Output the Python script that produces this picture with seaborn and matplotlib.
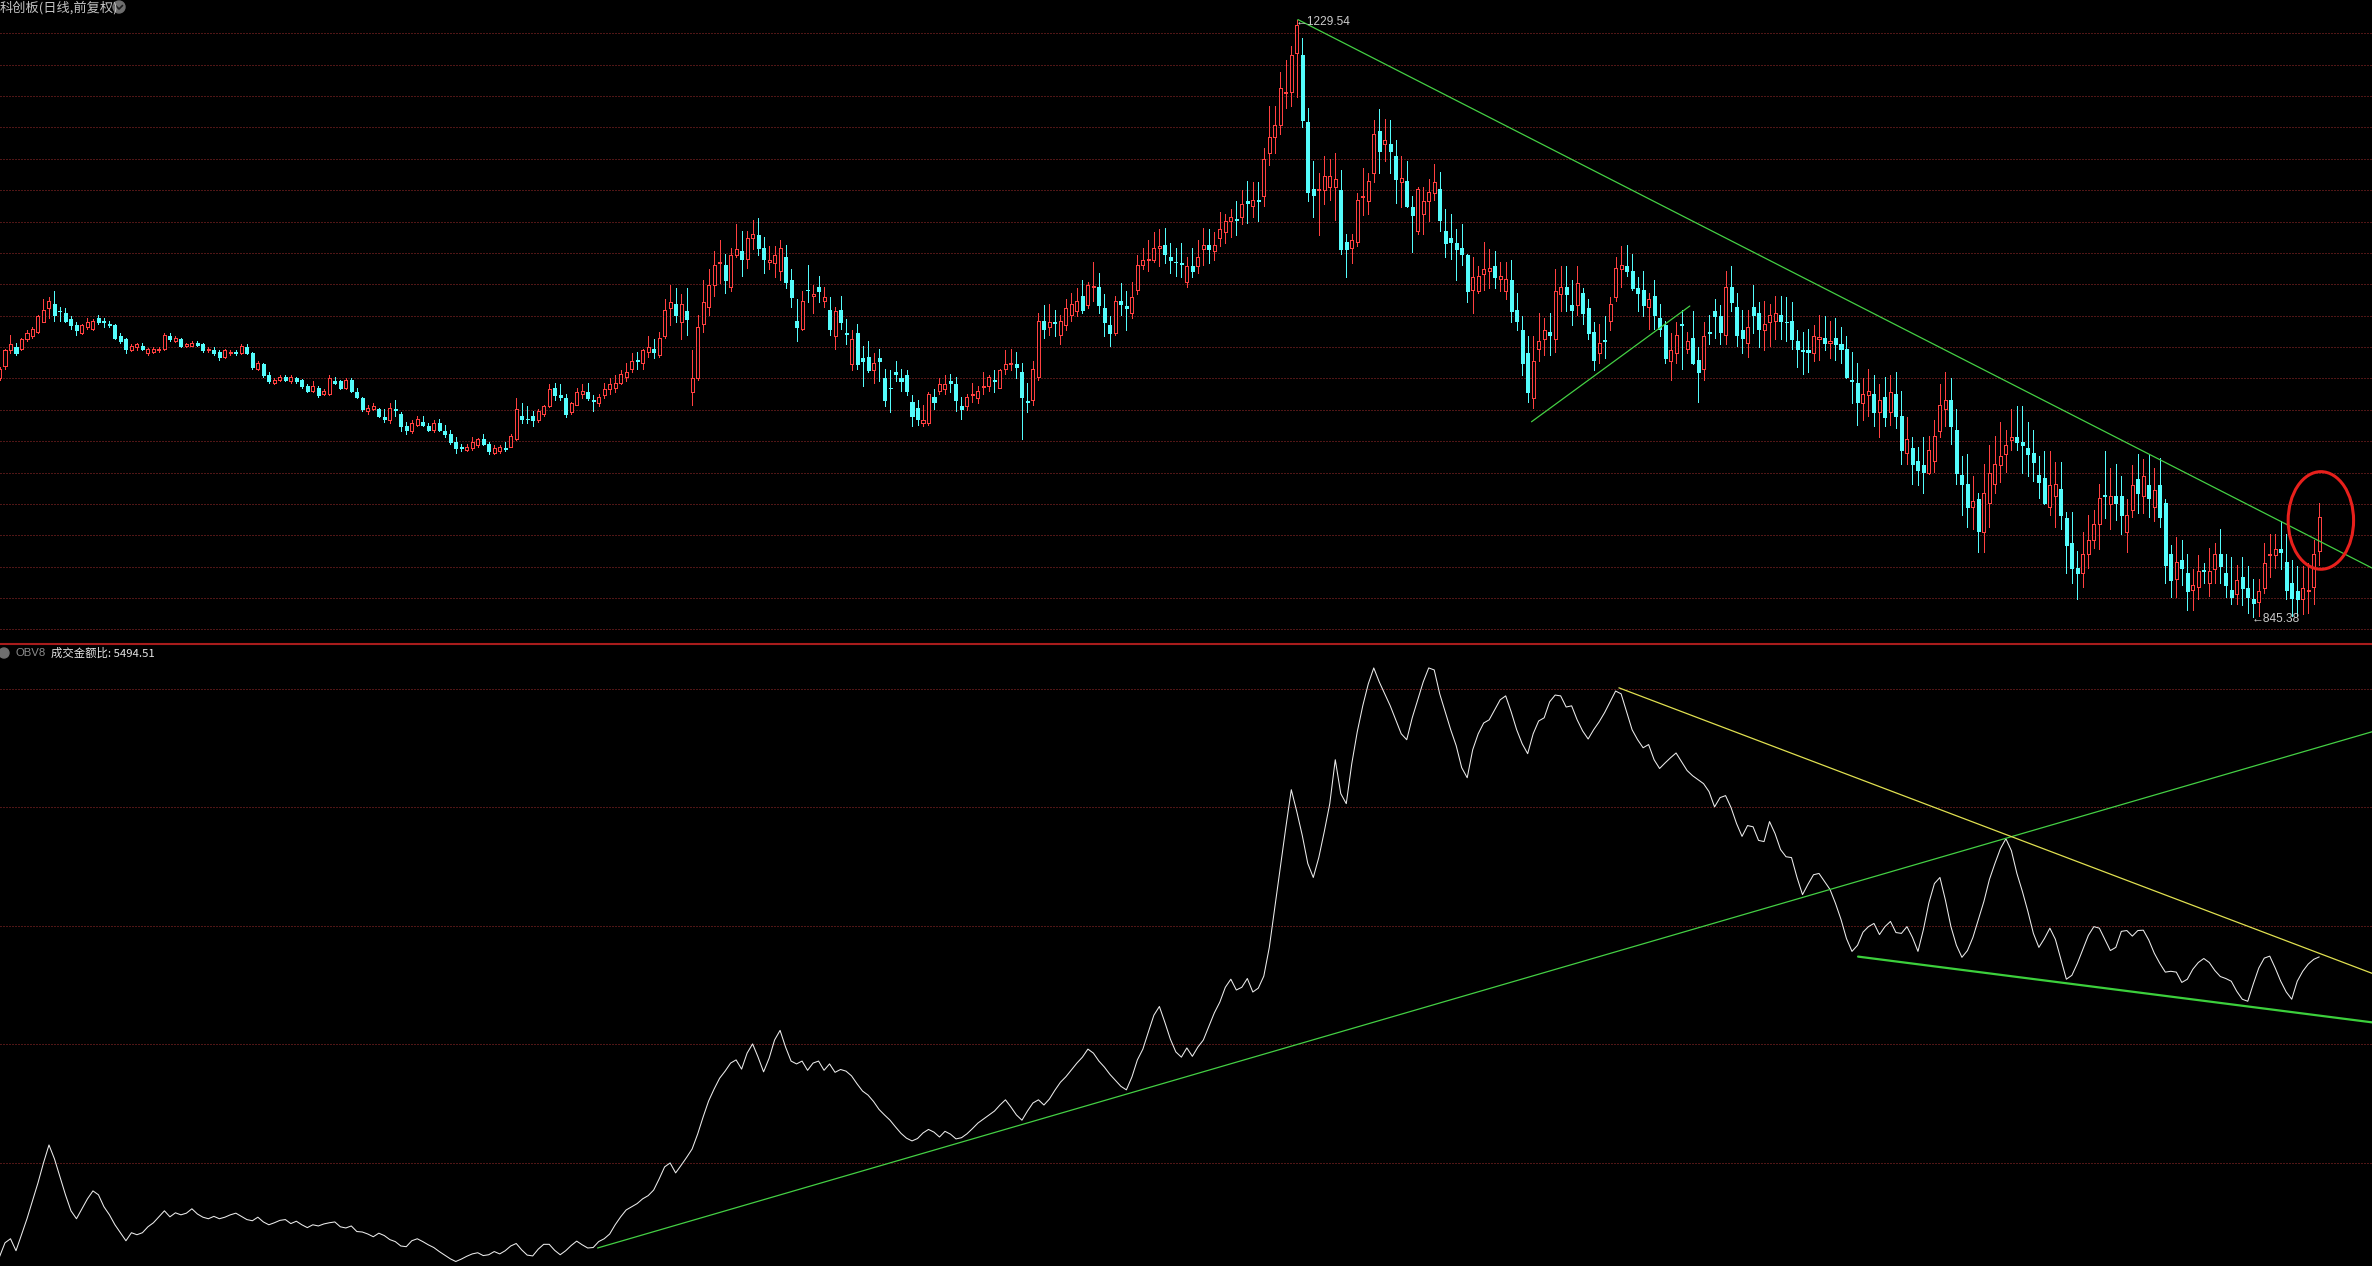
import matplotlib.pyplot as plt
from matplotlib.lines import Line2D
from matplotlib.patches import Ellipse
import numpy as np
import seaborn as sns

# 日线数据 (读自截图, 约423根K线)
opens = [
    999, 1007, 1017, 1019, 1018, 1024, 1026, 1029, 1035, 1044,
    1047, 1042.5, 1041, 1037, 1033, 1028, 1032, 1031, 1038, 1036,
    1034, 1033, 1026, 1024, 1017, 1019, 1020, 1015, 1016, 1017,
    1018, 1026, 1023, 1024, 1020, 1020, 1022, 1021, 1017, 1017,
    1016, 1013, 1015, 1016, 1015, 1019, 1015, 1005, 1008, 1001,
    996, 998, 1000, 997, 999, 998, 994, 991, 993, 989,
    989, 997, 997, 993, 998, 990, 986, 978, 979, 979,
    974, 972, 979, 976, 968, 965, 969, 971, 968, 966,
    970, 965, 963, 958, 954.5, 953, 954, 956, 960, 957,
    951, 952, 954, 955, 960, 975, 973, 975, 972, 976,
    981, 993, 988, 986, 977, 982, 989, 990, 985, 983,
    988, 992, 993, 996, 1000, 1005, 1011, 1009, 1016, 1018,
    1014, 1026, 1044, 1047, 1035, 1042, 990, 999, 1034, 1045,
    1059, 1073, 1072, 1058, 1078, 1081, 1076, 1089, 1091, 1083,
    1074, 1073, 1068, 1077, 1062, 1036, 1031, 1056, 1052, 1058,
    1049, 1043, 1026, 1043, 1028, 1008, 1028, 1012, 1013, 1004,
    1012, 999, 993, 1003, 999, 1001, 984, 980, 970, 970,
    987, 991, 992, 997, 995, 981, 981, 988, 986, 993.6,
    994, 998, 993, 1005, 1008, 1008, 1003, 984.3, 985, 1000,
    1036, 1032, 1035.2, 1027, 1033, 1040, 1042, 1052, 1046, 1058,
    1058, 1044, 1033, 1028, 1049, 1045.5, 1041, 1056, 1072, 1075,
    1075, 1083, 1085, 1077, 1074, 1073, 1061, 1071, 1071, 1082,
    1085, 1081, 1089, 1093, 1100, 1101.5, 1103, 1113, 1110, 1113.7,
    1116, 1144, 1154, 1162, 1182.3, 1183, 1208, 1207, 1164, 1121,
    1120, 1120, 1122, 1122, 1120, 1087, 1083, 1087, 1115.4, 1113,
    1131, 1158, 1150, 1150, 1142, 1125, 1126, 1109, 1094, 1105,
    1113, 1118, 1121, 1094, 1089, 1086, 1083, 1078, 1056, 1055,
    1066, 1068, 1071, 1063, 1055, 1062, 1043, 1030, 1015, 986,
    1018, 1024, 1029, 1024, 1053, 1058, 1046, 1046, 1054, 1044,
    1029, 1015, 1023.5, 1036, 1051, 1069, 1071, 1068, 1057, 1056,
    1045, 1052, 1038, 1033, 1010, 1015, 1034, 1018, 1025, 1011,
    1005, 1029, 1042, 1039, 1027, 1058, 1045, 1030, 1022, 1045,
    1041, 1030, 1035, 1036, 1040, 1035.4, 1036, 1023, 1017, 1017,
    1015, 1024.5, 1025, 1022, 1025, 1021, 1018, 998, 996, 983,
    988, 989, 977, 987, 977, 989, 975, 951, 954, 946,
    943, 938, 946, 965, 979, 985, 966, 937, 931, 916,
    921, 900, 919, 931, 943, 950, 959, 961, 958, 954,
    951, 937, 935, 916, 923, 928, 909, 893, 877, 874,
    886, 895, 905, 924, 918, 923, 923, 900, 914, 934,
    923, 930, 916, 930, 919, 886, 870, 882, 874, 863,
    865, 875.6, 867, 876, 886, 874, 863, 860, 871, 864,
    857, 855, 864, 885, 885, 889, 881, 867, 862, 857,
    862, 865, 888,
]
highs = [
    1006, 1018, 1027, 1022, 1025, 1030, 1032, 1040, 1050, 1051,
    1055, 1045, 1044, 1039, 1035, 1034, 1038, 1037, 1040, 1038,
    1036, 1034, 1028, 1025, 1021, 1021.5, 1022, 1018.5, 1019, 1019,
    1028, 1028, 1026, 1025, 1022, 1023, 1023, 1022, 1019, 1019,
    1017, 1018, 1017, 1017, 1021, 1021, 1016, 1010, 1009, 1003,
    999, 1001, 1001, 1001, 1000, 998.5, 995, 997, 994, 992,
    1001, 1000, 998, 999, 999, 993, 987, 982, 983, 980,
    979, 983, 985, 977, 971, 972, 975, 975, 970, 972,
    973, 969, 966, 961, 957, 957, 961, 960.5, 963, 958,
    956, 956, 958, 963, 986, 983, 981, 978, 979, 982,
    995, 996, 995, 989, 984, 993, 995, 996, 988, 989,
    996, 999, 1001, 1004, 1009, 1015, 1016, 1018, 1026, 1024,
    1029, 1050, 1059, 1057, 1053, 1057, 1017, 1040, 1062, 1069,
    1081, 1088, 1079, 1083, 1098, 1094, 1094, 1101, 1102, 1090,
    1084, 1084, 1088, 1085, 1069, 1050, 1055, 1072, 1059, 1065,
    1058, 1051, 1045, 1052, 1037, 1030, 1034, 1020, 1023, 1015,
    1018, 1005, 1004, 1010, 1005, 1004, 988, 985, 982, 990,
    992, 999, 1001, 1002, 1000, 987, 989, 996, 994, 1003,
    1001, 1004, 1005, 1017, 1018, 1016, 1009, 996, 1010, 1041,
    1046, 1047, 1043, 1040, 1050, 1054, 1057, 1062, 1061, 1074,
    1067, 1053, 1039, 1052, 1060, 1055, 1061, 1078, 1083, 1088,
    1093, 1095, 1096, 1086, 1083, 1086, 1077, 1083, 1088, 1096,
    1095, 1093, 1106, 1105, 1108, 1113, 1120, 1126, 1125, 1125,
    1147, 1174, 1174, 1196, 1204, 1213, 1229.54, 1218, 1173, 1139,
    1131, 1142, 1140, 1144, 1133, 1092, 1092, 1118, 1134, 1131,
    1165, 1172, 1166, 1165, 1152, 1142, 1139, 1116, 1122, 1122,
    1127, 1137, 1132, 1108, 1105, 1095, 1098, 1079, 1077, 1071,
    1087, 1082, 1081, 1074, 1074, 1075, 1054, 1039, 1026, 1026,
    1041, 1038, 1041, 1069, 1071, 1071, 1062, 1071, 1057, 1050,
    1035, 1034, 1039, 1051, 1077, 1084, 1085, 1079, 1064, 1068,
    1054, 1062, 1047, 1036, 1028, 1035, 1043, 1029, 1042, 1019,
    1035, 1040, 1050, 1046, 1068, 1071, 1054, 1043, 1043, 1059,
    1048, 1049, 1047, 1052, 1052, 1051, 1048, 1030, 1029, 1031,
    1033, 1040, 1039, 1036, 1038, 1032, 1026, 1016, 1009, 999,
    1005, 1001, 995, 1000, 1001, 1003, 991, 974, 961, 955,
    961, 962, 972, 995, 1003, 999, 979, 949, 950, 936,
    925, 944, 956, 962, 971, 966, 979, 981, 981, 971,
    966, 949, 952, 952, 945, 945, 913, 913, 888, 900,
    911, 914, 931, 952, 941, 944, 936, 921, 943, 950,
    947, 950, 941, 948, 921, 892, 897, 895, 886, 876,
    885, 880, 890, 893, 902, 886, 884, 879, 884, 878,
    870, 870, 893, 899, 899, 907, 899, 882, 878, 878,
    880, 895, 919,
]
lows = [
    998, 1005, 1015, 1014, 1017, 1023, 1025, 1028, 1035, 1038,
    1036, 1036, 1035, 1031, 1027, 1027.5, 1031, 1030, 1034, 1032,
    1032, 1024, 1022, 1015, 1016.5, 1017, 1017, 1014, 1015, 1016,
    1017, 1023, 1022.5, 1019, 1019, 1019.5, 1019.8, 1016, 1016, 1014,
    1011, 1012, 1014, 1014, 1014.5, 1014.5, 1005, 1004, 1000, 996,
    995, 997, 997, 996, 996, 993, 990, 990, 987, 988,
    988.5, 995, 992, 992, 990, 986, 978, 976, 978.5, 974,
    971, 970, 975, 965, 963, 964, 968, 968, 965, 964.5,
    965, 961, 957, 951, 952, 952, 953, 955, 956, 950,
    950, 951, 952, 954.5, 959.5, 970, 970, 968, 971, 975,
    980.5, 985, 985, 974, 976, 981.5, 986, 985, 978, 981,
    986, 989, 990, 995, 997, 1003, 1005, 1005, 1013, 1012,
    1013, 1025, 1033, 1035, 1024, 1027, 982, 998, 1029, 1040,
    1052, 1060, 1054, 1055, 1077, 1065, 1070, 1082, 1078, 1067,
    1069, 1064, 1062, 1057, 1045, 1023, 1030, 1048, 1041, 1048,
    1045, 1027, 1018, 1031, 1021, 1004, 1005, 994, 1003, 996,
    997, 981, 977, 997, 991, 988, 968, 969, 968, 969,
    979, 989, 989, 990, 978, 973, 978.5, 984, 983, 989,
    991, 990, 992.5, 1002, 1004, 999, 960, 977, 982, 998,
    1025, 1027, 1026, 1021, 1030, 1036, 1039, 1041, 1044, 1049,
    1041, 1026, 1020, 1027, 1040, 1030, 1038, 1053, 1069, 1068,
    1074, 1071, 1073, 1067, 1065, 1064, 1058, 1064, 1067, 1072,
    1073, 1075, 1084, 1086, 1090, 1091, 1098, 1099, 1103, 1100,
    1110, 1136, 1144, 1156, 1173, 1174, 1180, 1161, 1113, 1103,
    1091, 1111, 1114, 1101, 1079, 1064, 1073, 1084, 1104, 1105,
    1125, 1131, 1139, 1131, 1112, 1109, 1109.5, 1080, 1092, 1092,
    1100, 1114, 1094, 1077, 1076, 1062, 1072, 1048, 1041, 1054,
    1056, 1057, 1057, 1055, 1050, 1035, 1030, 1001, 984, 980,
    1010, 1014, 1014, 1016, 1042, 1042, 1033, 1040, 1034, 1024,
    1004, 1009, 1012, 1030, 1049, 1058, 1065, 1056, 1042, 1039,
    1031, 1031, 1026, 1009, 998, 1009, 1005, 1015, 1008, 984,
    998, 1021, 1025, 1021, 1021, 1042, 1020, 1015, 1013, 1028,
    1019, 1017, 1020, 1024, 1024, 1023, 1018, 1006, 1002, 1003,
    1010, 1011, 1017, 1012, 1011, 1009, 999, 983, 969, 972,
    975, 968, 961, 968, 969, 967, 944, 944, 931, 930,
    925, 937.5, 939, 961, 968, 957, 931, 911, 903, 902,
    887, 887, 903, 925, 932, 939, 953, 953, 938, 936,
    933, 922, 918, 911, 903, 902, 874, 867, 857, 865,
    877, 890, 889, 909, 902, 908, 899, 887, 910, 912,
    912, 910, 907, 903, 867, 858, 858, 866, 850, 850,
    857, 867, 859, 867, 867, 858, 854, 854, 853, 848,
    845.38, 846, 861, 871, 877, 876, 857, 846, 846, 847,
    848, 854, 879,
]
closes = [
    1005, 1017, 1021, 1015, 1024, 1028, 1031, 1039, 1043, 1049,
    1040, 1042, 1036, 1033, 1030, 1033, 1035, 1036, 1035, 1035,
    1033, 1025, 1023, 1018, 1020, 1021, 1018, 1018, 1018, 1018,
    1027, 1024, 1025, 1020, 1021, 1022, 1020.5, 1017, 1018, 1015,
    1013, 1017, 1016, 1015, 1020, 1015.5, 1006, 1009, 1001, 997,
    998, 1000, 998, 1000, 997, 994, 991, 994, 988, 991,
    999, 996, 993, 998, 991, 987, 979, 980, 981, 975,
    973, 980, 978.5, 968, 966, 970, 973, 969, 966, 970,
    966, 963, 958, 954, 954, 955, 958, 960, 957, 952,
    954, 955, 953.5, 962, 979, 973, 972.5, 972, 978, 981,
    992, 988, 987, 976, 983, 990, 991, 986, 984.5, 987,
    992, 995, 996, 1002, 1003, 1010, 1010, 1017, 1019, 1016,
    1025, 1043, 1048, 1040, 1047, 1037, 999, 1032, 1048, 1059,
    1072, 1074, 1062, 1078, 1082, 1076, 1089, 1092, 1083, 1076,
    1075, 1078, 1083, 1061, 1051, 1032, 1049, 1055.5, 1053, 1055,
    1051, 1031, 1042, 1035, 1027.5, 1024, 1008, 1010, 1004, 1009,
    1010, 985, 992.5, 1002, 997, 991, 975, 973, 972, 989,
    984, 995, 995, 996, 985, 979, 987, 989, 991, 994,
    1000, 997.5, 1004, 1008, 1009, 1006, 987, 983.5, 1005, 1036,
    1031, 1035, 1034.4, 1036, 1044, 1047, 1049, 1043, 1059, 1058.5,
    1046, 1035, 1028, 1049, 1047, 1044, 1051, 1072, 1075, 1076,
    1083, 1084, 1079, 1075, 1073.5, 1072.8, 1071, 1068, 1077, 1085,
    1082, 1085, 1095, 1100, 1103, 1101, 1111, 1112, 1114, 1113.3,
    1140, 1154, 1162, 1186, 1183.4, 1207, 1226, 1165, 1119, 1117,
    1121, 1129, 1129, 1127, 1082, 1082, 1088, 1114, 1116.3, 1126,
    1156, 1145, 1152, 1145, 1127, 1128, 1110, 1104, 1121, 1113,
    1119, 1125, 1101, 1086, 1087, 1082, 1079, 1055, 1064, 1065,
    1069, 1070, 1064, 1065, 1063, 1042, 1036, 1009, 990, 1010,
    1023, 1030, 1027, 1055, 1058, 1053, 1043, 1060, 1041, 1028,
    1011, 1022, 1023, 1047, 1070, 1072, 1068, 1057, 1054, 1046,
    1050, 1040, 1031, 1012, 1017, 1027, 1033, 1023, 1009, 1003,
    1026, 1028, 1039, 1029, 1058, 1048, 1027, 1025, 1032, 1040,
    1031, 1034, 1040, 1041, 1036, 1035, 1024, 1018, 1016.5, 1016,
    1026, 1025.7, 1022, 1023, 1021, 1018, 1000, 997, 984, 989,
    991, 977, 985, 974, 990, 975, 953, 960, 944, 940,
    939, 953, 962, 982, 985, 968, 938, 931, 916, 920,
    901, 925, 938, 944, 949, 956, 961, 958, 956, 950,
    945, 932, 919, 930, 931, 911, 892, 877, 874, 886,
    895, 905, 922, 923.5, 923, 919, 911, 911, 930, 925,
    936, 922, 927, 910, 879, 869, 881, 877, 862, 866,
    875, 875, 875, 886, 878, 866, 858, 869, 864, 858,
    854.5, 862, 880, 886, 889, 887, 863, 857.5, 857, 864,
    863, 886, 910,
]
# OBV8 成交金额比
obv = [
    2963, 3081, 3115, 3014, 3149, 3284, 3435, 3587, 3755, 3907,
    3789, 3637, 3486, 3351, 3284, 3368, 3452, 3519, 3486, 3385,
    3317, 3233, 3166, 3098, 3166, 3149, 3166, 3216, 3250, 3300,
    3351, 3300, 3334, 3317, 3331, 3368, 3324, 3297, 3284, 3304,
    3284, 3297, 3317, 3331, 3304, 3277, 3267, 3297, 3257, 3233,
    3250, 3270, 3277, 3243, 3263, 3233, 3209, 3233, 3223, 3240,
    3250, 3257, 3216, 3206, 3223, 3176, 3172, 3155, 3132, 3162,
    3142, 3108, 3091, 3054, 3048, 3098, 3115, 3091, 3064, 3041,
    3007, 2977, 2946, 2923, 2943, 2967, 2987, 2997, 2973, 2980,
    3007, 2987, 3014, 3054, 3075, 3021, 2977, 2970, 3027, 3068,
    3068, 3017, 2980, 3014, 3058, 3095, 3064, 3037, 3041, 3091,
    3115, 3155, 3233, 3300, 3358, 3385, 3412, 3452, 3479, 3526,
    3620, 3722, 3755, 3671, 3735, 3802, 3873, 3998, 4143, 4278,
    4379, 4470, 4530, 4598, 4625, 4547, 4682, 4760, 4648, 4524,
    4638, 4793, 4874, 4733, 4615, 4591, 4615, 4537, 4598, 4615,
    4537, 4591, 4520, 4544, 4530, 4490, 4423, 4362, 4328, 4274,
    4207, 4160, 4116, 4059, 4005, 3964, 3941, 3961, 4008, 4038,
    4015, 3974, 4022, 3998, 3958, 3968, 4001, 4045, 4092, 4126,
    4160, 4193, 4244, 4288, 4227, 4160, 4116, 4193, 4261, 4288,
    4244, 4295, 4369, 4436, 4483, 4540, 4598, 4648, 4716, 4682,
    4615, 4564, 4503, 4453, 4402, 4372, 4480, 4625, 4716, 4861,
    5002, 5076, 4942, 4800, 4692, 4648, 4726, 4655, 4733, 4793,
    4908, 5022, 5113, 5238, 5306, 5215, 5238, 5312, 5198, 5231,
    5332, 5575, 5912, 6249, 6586, 6906, 6721, 6519, 6283, 6165,
    6333, 6552, 6788, 7159, 6873, 6788, 7125, 7395, 7614, 7799,
    7934, 7816, 7715, 7614, 7496, 7378, 7328, 7513, 7665, 7816,
    7934, 7917, 7715, 7563, 7412, 7277, 7092, 7007, 7243, 7378,
    7469, 7496, 7580, 7665, 7698, 7563, 7412, 7294, 7210, 7378,
    7486, 7513, 7648, 7705, 7698, 7604, 7614, 7496, 7402, 7334,
    7412, 7479, 7557, 7648, 7739, 7715, 7563, 7412, 7328, 7260,
    7287, 7159, 7085, 7132, 7176, 7216, 7142, 7068, 7024, 6991,
    6957, 6889, 6761, 6839, 6856, 6755, 6620, 6512, 6603, 6593,
    6478, 6468, 6637, 6536, 6401, 6340, 6333, 6165, 6020, 6108,
    6188, 6199, 6131, 6064, 5946, 5811, 5649, 5541, 5592, 5703,
    5750, 5777, 5683, 5750, 5794, 5700, 5693, 5750, 5659, 5541,
    5727, 5953, 6114, 6165, 5973, 5750, 5592, 5491, 5548, 5659,
    5811, 5963, 6148, 6283, 6408, 6492, 6391, 6199, 6047, 5878,
    5693, 5575, 5649, 5737, 5643, 5474, 5306, 5339, 5440, 5558,
    5676, 5750, 5737, 5643, 5548, 5575, 5710, 5717, 5670, 5717,
    5720, 5636, 5525, 5440, 5366, 5373, 5366, 5279, 5306, 5390,
    5447, 5481, 5447, 5380, 5329, 5312, 5289, 5204, 5137, 5120,
    5265, 5400, 5484, 5501, 5400, 5289, 5198, 5137, 5289, 5373,
    5434, 5474, 5494.51,
]

# 画线 (两个端点: K线序号, 数值)
price_trend_x = [236.2, 431.6]
price_trend_y = [1229.8, 876.9]
short_trend_x = [278.7, 307.5]
short_trend_y = [971.0, 1045.5]
obv_up_x = [108.8, 431.6]
obv_up_y = [3037, 7395]
obv_down_x = [294.6, 431.6]
obv_down_y = [7766, 5356]
obv_low_x = [338.1, 431.6]
obv_low_y = [5497, 4942]

assert len(opens) == len(highs) == len(lows) == len(closes) == len(obv)

o = np.array(opens)
h = np.array(highs)
l = np.array(lows)
c = np.array(closes)
n = len(c)
idx = np.arange(n)

RED = "#ff4040"
CYAN = "#54fcfc"
GRID = "#a02c2c"

sns.set_theme(style="dark", rc={"figure.facecolor": "black", "axes.facecolor": "black"})
plt.rcParams["font.family"] = ["Liberation Sans", "DejaVu Sans"]
cjk = ["Noto Sans CJK SC", "DejaVu Sans"]

W, H = 2372, 1266
split = 644
fig = plt.figure(figsize=(W / 100, H / 100), dpi=100)
ax1 = fig.add_axes([0, 1 - split / H, 1, split / H])
ax2 = fig.add_axes([0, 0, 1, 1 - split / H])
for ax in (ax1, ax2):
    ax.set_axis_off()
    ax.set_xlim(0.09, 431.6)
ax1.set_ylim(828.0, 1242.4)
ax2.set_ylim(2885, 8136)

# 网格虚线 (1像素点, 间隔2像素)
for v in 1221.0 - 20.19 * np.arange(20):
    ax1.axhline(v, color=GRID, lw=0.72, ls=(0, (1, 2)), dash_capstyle="butt", zorder=1)
for v in np.arange(3756, 8000, 1000):
    ax2.axhline(v, color=GRID, lw=0.72, ls=(0, (1, 2)), dash_capstyle="butt", zorder=1)

# K线
up = c >= o
ax1.vlines(idx, l, h, colors=np.where(up, RED, CYAN), lw=0.72, antialiased=False, zorder=2)
ax1.bar(idx, np.abs(c - o), bottom=np.minimum(o, c), width=0.55,
        color=np.where(up, "black", CYAN), edgecolor=np.where(up, RED, CYAN),
        linewidth=0.72, antialiased=False, zorder=3)

ax1.plot(price_trend_x, price_trend_y, color="#44d044", lw=0.9, zorder=4)
ax1.plot(short_trend_x, short_trend_y, color="#44d044", lw=0.9, zorder=4)

hi = int(np.argmax(h))
lo = int(np.argmin(l))
ax1.annotate("\u2190" + f"{h[hi]:.2f}", xy=(hi, h[hi]), xytext=(-1, -1.5), textcoords="offset points",
             ha="left", va="center", color="#cccccc", fontsize=8.6, zorder=5)
ax1.annotate("\u2190" + f"{l[lo]:.2f}", xy=(lo, l[lo]), xytext=(-1, -1.5), textcoords="offset points",
             ha="left", va="center", color="#cccccc", fontsize=8.6, zorder=5)

ax1.add_patch(Ellipse((n - 0.7, 907.5), width=11.9, height=62.8, fill=False,
                      edgecolor="#e8201c", lw=2.2, zorder=6))

# OBV
sns.lineplot(x=idx, y=obv, ax=ax2, color="#ececec", linewidth=0.75, legend=False, zorder=3)
ax2.plot(obv_up_x, obv_up_y, color="#44d044", lw=0.9, zorder=4)
ax2.plot(obv_down_x, obv_down_y, color="#e0e050", lw=0.9, zorder=4)
ax2.plot(obv_low_x, obv_low_y, color="#3cd03c", lw=1.6, zorder=4)
ax2.set_axis_off()

# 分隔线
fig.add_artist(Line2D([0, 1], [1 - split / H] * 2, color="#a81c1c", lw=1.5))

# 标题
fig.text(0.0, 1 - 8 / H, "科创板(日线,前复权)", ha="left", va="center",
         fontsize=9.5, color="#c4c4c4", family=cjk)
fig.add_artist(Ellipse((119 / W, 1 - 7 / H), 12 / W, 12 / H, transform=fig.transFigure, color="#6e6e6e"))
fig.add_artist(Line2D([115.5 / W, 119 / W, 122.5 / W], [1 - 5.5 / H, 1 - 9 / H, 1 - 5.5 / H],
                      transform=fig.transFigure, color="#1c1c1c", lw=1.2))

fig.add_artist(Ellipse((4 / W, 1 - 653 / H), 10 / W, 10 / H, transform=fig.transFigure, color="#6e6e6e"))
fig.text(15 / W, 1 - 653 / H, "OBV8", ha="left", va="center", fontsize=8.2, color="#8c8c8c")
fig.text(51 / W, 1 - 653 / H, f"成交金额比: {obv[-1]:.2f}", ha="left", va="center",
         fontsize=8.2, color="#e6e6e6", family=cjk)

fig.savefig("out.png", dpi=100, facecolor="black")
